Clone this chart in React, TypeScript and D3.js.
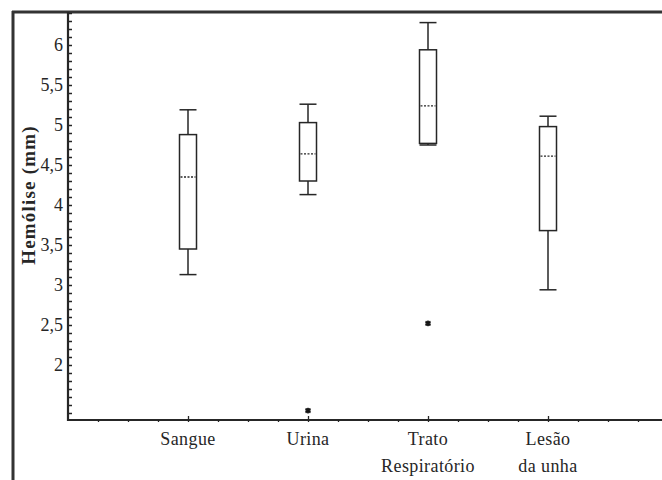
import React, { useEffect, useRef } from "react";
import * as d3 from "d3";

// values (Hemólise in mm)
const categories = ["Sangue", "Urina", "Trato\nRespiratório", "Lesão\nda unha"];
const whiskerLow = [3.13, 4.13, 4.75, 2.94];
const q1 = [3.45, 4.3, 4.77, 3.68];
const median = [4.35, 4.64, 5.24, 4.61];
const q3 = [4.88, 5.03, 5.94, 4.98];
const whiskerHigh = [5.19, 5.26, 6.28, 5.11];
const outliers = [[], [1.43], [2.52], []];
const yTicks = [2, 2.5, 3, 3.5, 4, 4.5, 5, 5.5, 6];

const width = 662;
const height = 480;
const ink = "#262626";
const serif = "'Liberation Serif', 'Times New Roman', serif";

function App() {
  const ref = useRef(null);

  useEffect(() => {
    const svg = d3.select(ref.current);
    svg.selectAll("*").remove();

    const x = d3.scaleLinear().domain([0, 5]).range([68, 668]);
    const y = d3.scaleLinear().domain([1.3125, 6.4125]).range([420, 12]);

    // outer frame (cropped at right / bottom)
    svg
      .append("line")
      .attr("x1", 13)
      .attr("x2", 13)
      .attr("y1", 11)
      .attr("y2", height)
      .attr("stroke", "#333")
      .attr("stroke-width", 3);
    svg
      .append("line")
      .attr("x1", 12)
      .attr("x2", width)
      .attr("y1", 12)
      .attr("y2", 12)
      .attr("stroke", "#333")
      .attr("stroke-width", 3);

    // y axis: minor ticks every 0.1, labels every 0.5
    const minor = d3.range(14, 65).map((i) => i / 10);
    const gy = svg.append("g").attr("transform", "translate(68,0)");
    gy.call(
      d3
        .axisLeft(y)
        .tickValues(minor)
        .tickSize(-4)
        .tickFormat(() => "")
    );
    gy.append("g").call(
      d3
        .axisLeft(y)
        .tickValues(yTicks)
        .tickSize(0)
        .tickPadding(5)
        .tickFormat((d) => String(d).replace(".", ","))
    );
    gy.selectAll(".domain").remove();
    gy.selectAll("line").attr("stroke", ink).attr("stroke-width", 1.5);
    gy.selectAll("text")
      .attr("fill", ink)
      .style("font-family", serif)
      .style("font-size", "18px");

    // x axis
    const gx = svg.append("g").attr("transform", "translate(0,420)");
    gx.call(
      d3
        .axisBottom(x)
        .tickValues(d3.range(1, 20).map((i) => i / 4))
        .tickSize(2)
        .tickFormat(() => "")
    );
    gx.append("g").call(
      d3
        .axisBottom(x)
        .tickValues([1, 2, 3, 4])
        .tickSize(-4)
        .tickFormat(() => "")
    );
    gx.selectAll(".domain").remove();
    gx.selectAll("line").attr("stroke", ink).attr("stroke-width", 1.3);

    // axis lines
    svg
      .append("line")
      .attr("x1", 68)
      .attr("x2", 68)
      .attr("y1", 12)
      .attr("y2", 421)
      .attr("stroke", ink)
      .attr("stroke-width", 2.2);
    svg
      .append("line")
      .attr("x1", 67)
      .attr("x2", width)
      .attr("y1", 420)
      .attr("y2", 420)
      .attr("stroke", ink)
      .attr("stroke-width", 2.2);

    // category labels
    categories.forEach((c, i) => {
      const t = svg
        .append("text")
        .attr("text-anchor", "middle")
        .attr("fill", ink)
        .style("font-family", serif)
        .style("font-size", "18px")
        .style("letter-spacing", "0.4px");
      c.split("\n").forEach((line, j) => {
        t.append("tspan")
          .attr("x", x(i + 1))
          .attr("y", 445 + j * 27)
          .text(line);
      });
    });

    // y title
    svg
      .append("text")
      .attr("transform", "translate(35,195) rotate(-90)")
      .attr("text-anchor", "middle")
      .attr("fill", ink)
      .style("font-family", serif)
      .style("font-weight", "bold")
      .style("font-size", "19px")
      .style("letter-spacing", "1.2px")
      .text("Hemólise (mm)");

    // boxes
    const half = 8.5;
    categories.forEach((c, i) => {
      const cx = x(i + 1);
      const g = svg
        .append("g")
        .attr("stroke", ink)
        .attr("stroke-width", 1.5)
        .attr("fill", "none");
      g.append("line")
        .attr("x1", cx)
        .attr("x2", cx)
        .attr("y1", y(whiskerHigh[i]))
        .attr("y2", y(q3[i]));
      g.append("line")
        .attr("x1", cx)
        .attr("x2", cx)
        .attr("y1", y(q1[i]))
        .attr("y2", y(whiskerLow[i]));
      [whiskerHigh[i], whiskerLow[i]].forEach((v) => {
        g.append("line")
          .attr("x1", cx - half)
          .attr("x2", cx + half)
          .attr("y1", y(v))
          .attr("y2", y(v));
      });
      g.append("rect")
        .attr("x", cx - half)
        .attr("y", y(q3[i]))
        .attr("width", half * 2)
        .attr("height", y(q1[i]) - y(q3[i]))
        .attr("fill", "#fff");
      g.append("line")
        .attr("x1", cx - half + 1)
        .attr("x2", cx + half - 1)
        .attr("y1", y(median[i]))
        .attr("y2", y(median[i]))
        .attr("stroke-width", 1.3)
        .attr("stroke-dasharray", "2,1.5");
      outliers[i].forEach((v) => {
        svg
          .append("rect")
          .attr("x", cx - 2.5)
          .attr("y", y(v) - 2.5)
          .attr("width", 5)
          .attr("height", 5)
          .attr("fill", "#333");
        svg
          .append("path")
          .attr("transform", `translate(${cx},${y(v)})`)
          .attr("d", d3.symbol(d3.symbolAsterisk, 22)())
          .attr("stroke", "#111")
          .attr("stroke-width", 1.2)
          .attr("fill", "none");
      });
    });
  }, []);

  return (
    <svg
      ref={ref}
      width={width}
      height={height}
      style={{ position: "absolute", left: 0, top: 0, background: "#fff" }}
    ></svg>
  );
}

export default App;
